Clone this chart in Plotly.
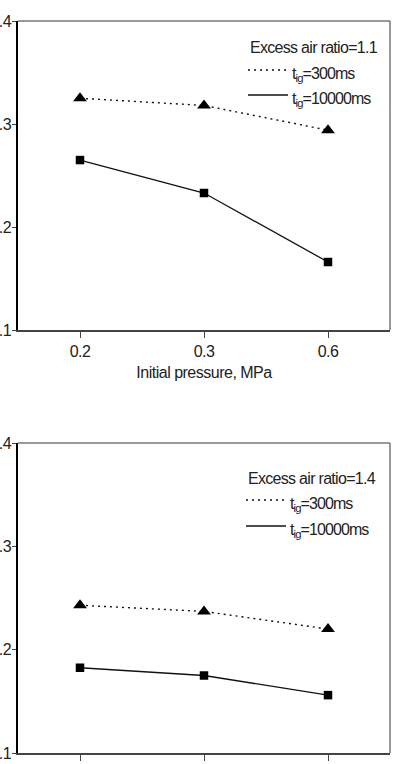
import plotly.graph_objects as go
from plotly.subplots import make_subplots

# ---- data ----
pressures = ["0.2", "0.3", "0.6"]
top_tig300 = [0.325, 0.318, 0.294]
top_tig10000 = [0.265, 0.233, 0.166]
bot_tig300 = [0.243, 0.237, 0.220]
bot_tig10000 = [0.1825, 0.175, 0.156]
ratios = ["1.1", "1.4"]
y_ticks = [0.1, 0.2, 0.3, 0.4]
y_ticklabels = ["0.1", "0.2", "0.3", "0.4"]

W, H = 395, 764
ML, MR, MT, MB = 18, 5, 21, 11
PW, PH = W - ML - MR, H - MT - MB


def px(x):
    return (x - ML) / PW


def py(y):
    return (H - MB - y) / PH


FONT = "Liberation Sans, Arial, sans-serif"
TXT = "#222222"
FS = 16
DOTS = "2px,4px"


def tight(s, sp=-0.6):
    return f"<span style='letter-spacing:{sp}px'>{s}</span>"


fig = make_subplots(rows=2, cols=1)
fig.update_layout(
    xaxis=dict(domain=[0, 1]),
    yaxis=dict(domain=[py(330), 1.0]),
    xaxis2=dict(domain=[0, 1]),
    yaxis2=dict(domain=[0.0, py(443)]),
)

panels = [(top_tig300, top_tig10000, 1), (bot_tig300, bot_tig10000, 2)]
for s300, s10000, r in panels:
    fig.add_trace(go.Scatter(
        x=pressures, y=s300, mode="lines+markers",
        line=dict(color="#111111", width=1.4, dash=DOTS),
        marker=dict(symbol="triangle-up", size=12, color="#000000"),
        showlegend=False), row=r, col=1)
    fig.add_trace(go.Scatter(
        x=pressures, y=s10000, mode="lines+markers",
        line=dict(color="#111111", width=1.3),
        marker=dict(symbol="square", size=8.5, color="#000000"),
        showlegend=False), row=r, col=1)

for r in (1, 2):
    fig.update_xaxes(
        type="category", range=[-0.5, 2.5], showgrid=False, zeroline=False,
        showline=True, linecolor="#444444", linewidth=1.5,
        ticks="outside", ticklen=6, tickcolor="#444444", tickwidth=1,
        tickmode="array", tickvals=pressures,
        ticktext=[tight(p, -0.5) for p in pressures],
        tickfont=dict(family=FONT, size=FS, color=TXT),
        showticklabels=(r == 1), row=r, col=1)
    fig.update_yaxes(
        range=[0.1, 0.4], tickmode="array", tickvals=y_ticks,
        ticktext=[tight(t, -0.5) for t in y_ticklabels],
        showgrid=False, zeroline=False,
        showline=True, linecolor="#000000", linewidth=1.5,
        ticks="outside", ticklen=4, tickcolor="#444444", tickwidth=1,
        tickfont=dict(family=FONT, size=FS, color=TXT),
        ticklabelstandoff=-2,
        automargin=False, row=r, col=1)

fig.update_xaxes(title=dict(text=tight("Initial pressure, MPa", -0.5), standoff=8,
                            font=dict(family=FONT, size=FS, color=TXT)),
                 automargin=False, row=1, col=1)

shapes = []
annotations = []
# frame: top (gray) and right (dark gray) borders
for (top, bottom) in [(21, 330), (443, 753)]:
    shapes.append(dict(type="line", xref="paper", yref="paper",
                       x0=0, x1=1, y0=py(top), y1=py(top),
                       line=dict(color="#999999", width=2.2)))
    shapes.append(dict(type="line", xref="paper", yref="paper",
                       x0=1, x1=1, y0=py(top), y1=py(bottom),
                       line=dict(color="#555555", width=1.2)))

# legends
legend_pos = [(47, 70, 95, 248), (478, 500, 526, 246)]
for ratio, (yt, y1, y2, xl) in zip(ratios, legend_pos):
    annotations.append(dict(xref="paper", yref="paper", x=px(xl), y=py(yt),
                            xanchor="left", yanchor="middle", showarrow=False,
                            text=tight(f"Excess air ratio={ratio}", -0.7),
                            font=dict(family=FONT, size=FS, color=TXT)))
    for yy, dash, label in [(y1, DOTS, "300ms"), (y2, "solid", "10000ms")]:
        shapes.append(dict(type="line", xref="paper", yref="paper",
                           x0=px(xl), x1=px(xl + 40), y0=py(yy), y1=py(yy),
                           line=dict(color="#111111", width=1.3, dash=dash)))
        annotations.append(dict(xref="paper", yref="paper", x=px(xl + 42),
                                y=py(yy + 4), xanchor="left", yanchor="middle",
                                showarrow=False,
                                text=tight(f"t<sub>ig</sub>={label}", -0.9),
                                font=dict(family=FONT, size=FS, color=TXT)))

fig.update_layout(
    width=W, height=H,
    margin=dict(l=ML, r=MR, t=MT, b=MB),
    paper_bgcolor="white", plot_bgcolor="white",
    shapes=shapes, annotations=annotations,
    showlegend=False,
)

fig.write_html("out.html")
